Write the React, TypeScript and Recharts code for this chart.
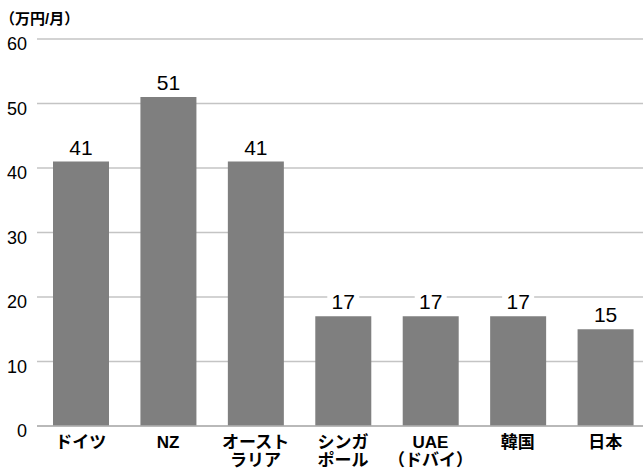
import React from 'react'
import { BarChart, Bar, XAxis, YAxis, CartesianGrid, LabelList } from 'recharts';

const categories = ['ドイツ', 'NZ', 'オースト\nラリア', 'シンガ\nポール', 'UAE\n（ドバイ）', '韓国', '日本'];
const values = [41, 51, 41, 17, 17, 17, 15];
const yTicks = [0, 10, 20, 30, 40, 50, 60];
const unitLabel = '（万円/月）';

const FONT = '"Liberation Sans", "Noto Sans CJK JP", sans-serif';

const data = categories.map((name, i) => ({ name, value: values[i] }));

const YTick = ({ y, payload }: any) => (
    <text x={27} y={y} dy={11} textAnchor="end" fontSize={18} fill="#000" fontFamily={FONT}>
        {payload.value}
    </text>
);

const XTick = ({ x, y, payload }: any) => {
    const lines = String(payload.value).split('\n');
    return (
        <text x={x} y={y} textAnchor="middle" fontSize={17} fontWeight="bold" fill="#000" fontFamily={FONT}>
            {lines.map((line, i) => (
                <tspan key={i} x={x} dy={i === 0 ? 22 : 18}>{line}</tspan>
            ))}
        </text>
    );
};

const ValueLabel = ({ x, y, width, value }: any) => {
    const cx = x + width / 2;
    const w = String(value).length * 12 + 8;
    return (
        <g>
            <rect x={cx - w / 2} y={y - 24} width={w} height={20} fill="#fff" />
            <text x={cx} y={y - 7} textAnchor="middle" fontSize={21} fill="#000" fontFamily={FONT}>
                {value}
            </text>
        </g>
    );
};

const App = () => {
    return (
        <div style={{ position: 'absolute', left: 0, top: 0, width: 643, height: 469, overflow: 'hidden', background: '#fff' }}>
            <div style={{ position: 'absolute', left: 0, top: 10, fontSize: 15, fontWeight: 'bold', fontFamily: FONT, lineHeight: '17px', zIndex: 1 }}>
                {unitLabel}
            </div>
            <BarChart width={649} height={469} data={data} margin={{ top: 39, right: 0, bottom: 0, left: 0 }}>
                <CartesianGrid vertical={false} stroke="#c4c4c4" strokeWidth={1.5} />
                <XAxis
                    dataKey="name"
                    height={43}
                    tickSize={0}
                    tickMargin={0}
                    interval={0}
                    axisLine={{ stroke: '#b0b0b0', strokeWidth: 1.5 }}
                    tickLine={false}
                    tick={<XTick />}
                />
                <YAxis
                    width={37}
                    domain={[0, 60]}
                    ticks={yTicks}
                    axisLine={false}
                    tickLine={false}
                    tick={<YTick />}
                />
                <Bar dataKey="value" fill="#7f7f7f" barSize={56} isAnimationActive={false}>
                    <LabelList dataKey="value" content={<ValueLabel />} />
                </Bar>
            </BarChart>
        </div>
    );
}

export default App;
